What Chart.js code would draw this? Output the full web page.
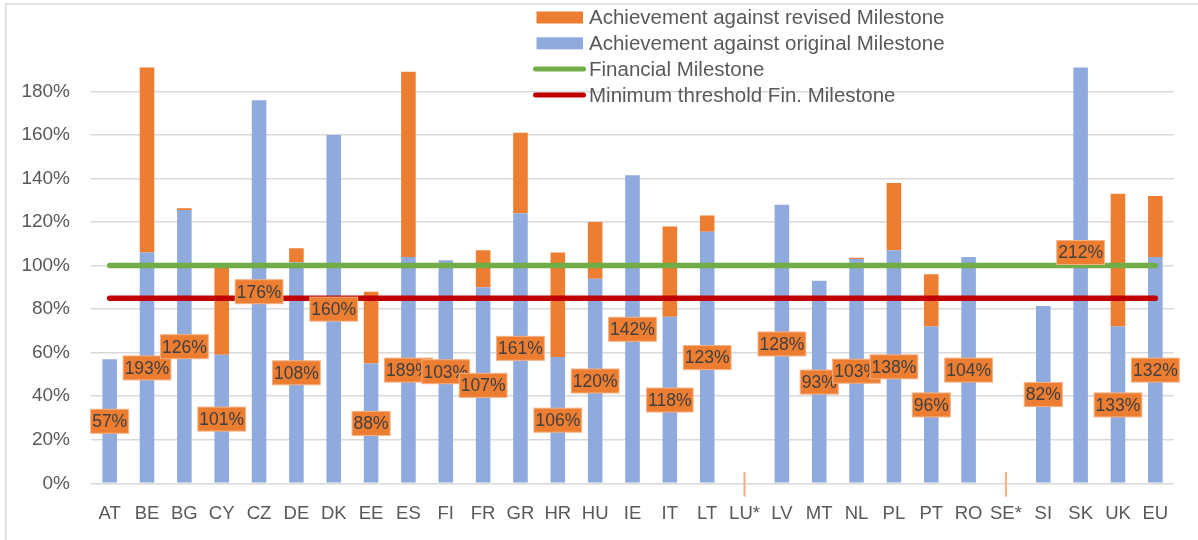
<!DOCTYPE html>
<html>
<head>
<meta charset="utf-8">
<script src="https://cdn.jsdelivr.net/npm/chart.js@4.4.1/dist/chart.umd.min.js"></script>
<style>
  html, body { margin: 0; padding: 0; background: #ffffff; }
  #wrap { width: 1198px; height: 540px; position: relative; }
  canvas { display: block; }
</style>
</head>
<body>
<div id="wrap"><canvas id="c" width="1198" height="540"></canvas></div>
<script>
const categories = ['AT','BE','BG','CY','CZ','DE','DK','EE','ES','FI','FR','GR','HR','HU','IE','IT','LT','LU*','LV','MT','NL','PL','PT','RO','SE*','SI','SK','UK','EU'];
const originalAchievement = [57,106,125.5,59,176,101.5,160,55,104,102.5,90,124,58,94,141.5,76.5,115.5,null,128,93,103,107,72,104,null,81.5,212,72,104];
const revisedIncrement = [0,87,0.8,40,0,6.5,0,33,85,0,17,37,48,26,0,41.5,7.5,null,0,0,0.6,31,24,0,null,0,0,61,28];
const totalLabels = ['57%','193%','126%','101%','176%','108%','160%','88%','189%','103%','107%','161%','106%','120%','142%','118%','123%','','128%','93%','103%','138%','96%','104%','','82%','212%','133%','132%'];
const missingMarker = [null,null,null,null,null,null,null,null,null,null,null,null,null,null,null,null,null,[-6,5],null,null,null,null,null,null,[-6,5],null,null,null,null];
const financialMilestone = categories.map(() => 100);
const minimumThreshold = categories.map(() => 85);
const yTicks = [0,20,40,60,80,100,120,140,160,180];

const FONT = "'Liberation Sans', Arial, sans-serif";
const GREY = '#595959';

const framePlugin = {
  id: 'frame',
  beforeDraw(chart) {
    const ctx = chart.ctx;
    ctx.save();
    ctx.fillStyle = '#ffffff';
    ctx.fillRect(0, 0, chart.width, chart.height);
    ctx.strokeStyle = '#D9D9D9';
    ctx.lineWidth = 1.5;
    ctx.strokeRect(5.75, 4, 1400, 700);
    ctx.restore();
  }
};

const labelPlugin = {
  id: 'totals',
  afterDatasetsDraw(chart) {
    const ctx = chart.ctx;
    const xs = chart.scales.x, ys = chart.scales.y;
    ctx.save();
    ctx.font = '17.5px ' + FONT;
    ctx.textAlign = 'center';
    ctx.textBaseline = 'middle';
    categories.forEach((c, i) => {
      const t = totalLabels[i];
      if (!t || originalAchievement[i] == null) return;
      const x = xs.getPixelForValue(i);
      const y = ys.getPixelForValue(originalAchievement[i] / 2);
      const w = ctx.measureText(t).width + 3;
      const h = 24;
      ctx.fillStyle = '#ED7D31';
      ctx.fillRect(x - w / 2, y - h / 2, w, h);
      ctx.strokeStyle = '#F4B183';
      ctx.lineWidth = 1;
      ctx.strokeRect(x - w / 2, y - h / 2, w, h);
      ctx.fillStyle = '#404040';
      ctx.fillText(t, x, y + 1);
    });
    ctx.restore();
  }
};

const legendPlugin = {
  id: 'customLegend',
  afterDraw(chart) {
    const ctx = chart.ctx;
    const items = [1, 0, 3, 4].map(i => chart.data.datasets[i]);
    ctx.save();
    ctx.font = '20.5px ' + FONT;
    ctx.textBaseline = 'middle';
    ctx.textAlign = 'left';
    items.forEach((ds, k) => {
      const cy = 17.5 + k * 25.8;
      if (ds.type === 'line') {
        ctx.strokeStyle = ds.borderColor;
        ctx.lineWidth = 5;
        ctx.lineCap = 'round';
        ctx.beginPath();
        ctx.moveTo(535.5, cy);
        ctx.lineTo(583.5, cy);
        ctx.stroke();
      } else {
        ctx.fillStyle = ds.backgroundColor;
        ctx.fillRect(536.5, cy - 6, 46.5, 12);
      }
      ctx.fillStyle = GREY;
      ctx.fillText(ds.label, 589, cy + 1);
    });
    ctx.restore();
  }
};

new Chart(document.getElementById('c'), {
  data: {
    labels: categories,
    datasets: [
      { type: 'bar', label: 'Achievement against original Milestone', data: originalAchievement,
        backgroundColor: '#8FAADC', yAxisID: 'y', order: 2,
        categoryPercentage: 1, barPercentage: 0.39 },
      { type: 'bar', label: 'Achievement against revised Milestone', data: revisedIncrement,
        backgroundColor: '#ED7D31', yAxisID: 'y', order: 2,
        categoryPercentage: 1, barPercentage: 0.39 },
      { type: 'bar', label: 'n/a', data: missingMarker,
        backgroundColor: '#F4B183', yAxisID: 'y2', order: 2, barThickness: 1.5, clip: false },
      { type: 'line', label: 'Financial Milestone', data: financialMilestone,
        borderColor: '#70AD47', borderWidth: 5.5, pointRadius: 0, borderCapStyle: 'round',
        yAxisID: 'y2', order: 0 },
      { type: 'line', label: 'Minimum threshold Fin. Milestone', data: minimumThreshold,
        borderColor: '#C00000', borderWidth: 5.5, pointRadius: 0, borderCapStyle: 'round',
        yAxisID: 'y2', order: 0 }
    ]
  },
  options: {
    responsive: false,
    animation: false,
    devicePixelRatio: 1,
    layout: { padding: { top: 67.5, right: 24, left: 0, bottom: 0 } },
    plugins: {
      legend: { display: false },
      tooltip: { enabled: false }
    },
    scales: {
      x: {
        stacked: true,
        grid: { display: false, drawTicks: false },
        border: { display: false },
        ticks: { color: GREY, font: { family: FONT, size: 18.5 }, padding: 20, autoSkip: false, maxRotation: 0 },
        afterFit(s) { s.height = 56.7; }
      },
      y: {
        stacked: true,
        min: 0, max: 191,
        grid: { color: '#D9D9D9', lineWidth: 1.5, drawTicks: false },
        border: { display: false },
        afterBuildTicks(s) { s.ticks = yTicks.map(v => ({ value: v })); },
        ticks: { color: GREY, font: { family: FONT, size: 19 }, padding: 21, callback: v => v + '%' },
        afterFit(s) { s.width = 91; }
      },
      y2: {
        display: false,
        stacked: false,
        min: 0, max: 191
      }
    }
  },
  plugins: [framePlugin, labelPlugin, legendPlugin]
});
</script>
</body>
</html>
